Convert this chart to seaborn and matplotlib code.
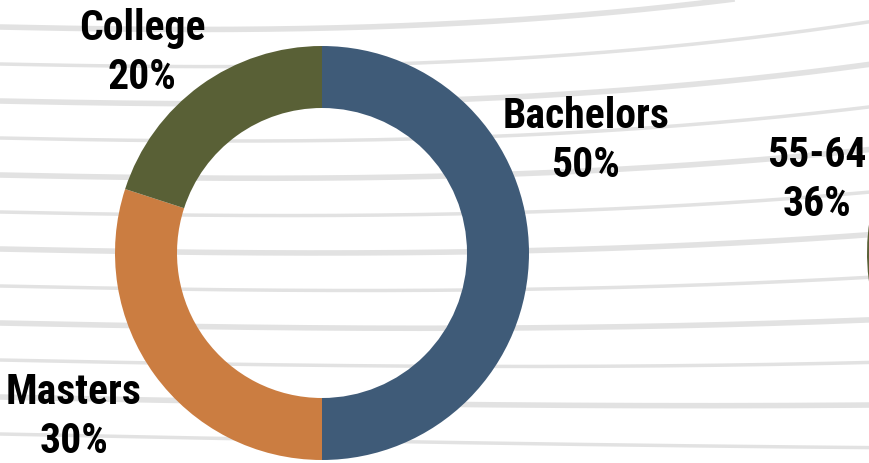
import numpy as np
import matplotlib
matplotlib.use("Agg")
import matplotlib.pyplot as plt
import seaborn as sns

# ---- data ----
edu_labels = ["Bachelors", "Masters", "College"]
edu_values = [50, 30, 20]
edu_colors = ["#3F5B78", "#CB7D41", "#596036"]

age_labels = ["Other ages", "55-64"]
age_values = [64, 36]
age_colors = ["#3F5B78", "#596036"]

sns.set_theme(style="white")
plt.rcParams["font.family"] = ["Roboto Condensed", "Liberation Sans", "DejaVu Sans"]

W, H = 870, 463
fig = plt.figure(figsize=(W / 100, H / 100), dpi=100)
fig.patch.set_facecolor("white")
ax = fig.add_axes([0, 0, 1, 1])

# decorative background swooshes
xs = np.linspace(0, W, 300)
t = xs / W
for i, base in enumerate(np.arange(-10, 520, 37)):
    k = max(0.0, 70 * (1 - base / 463))
    ys = base + 18 * t - k * t ** 2.5
    ax.plot(xs, H - ys, color="#e2e2e2", lw=4 if i % 2 else 2.5, zorder=0,
            solid_capstyle="butt")

# main donut
wedges, _ = ax.pie(edu_values, colors=edu_colors, startangle=90, counterclock=False,
                   center=(322, H - 253), radius=207,
                   wedgeprops=dict(width=62, edgecolor="none"), frame=True)
for w in wedges:
    w.set_zorder(2)

# second donut (mostly off-canvas)
wedges2, _ = ax.pie(age_values, colors=age_colors, startangle=90, counterclock=False,
                    center=(1074, H - 253), radius=207,
                    wedgeprops=dict(width=62, edgecolor="none"), frame=True)
for w in wedges2:
    w.set_zorder(2)

txt = dict(fontsize=30, fontweight="bold", color="black", ha="center", va="center",
           linespacing=1.22, zorder=3)
label_pos = {"Bachelors": (586, 141), "Masters": (74, 417), "College": (142, 53)}
for lab, val in zip(edu_labels, edu_values):
    x, y = label_pos[lab]
    ax.text(x, H - y, f"{lab}\n{val}%", **txt)
ax.text(817, H - 180, f"{age_labels[1]}\n{age_values[1]}%", **txt)

ax.set_xlim(0, W)
ax.set_ylim(0, H)
ax.set_aspect("equal")
ax.axis("off")
fig.savefig("out.png", dpi=100, facecolor="white")
